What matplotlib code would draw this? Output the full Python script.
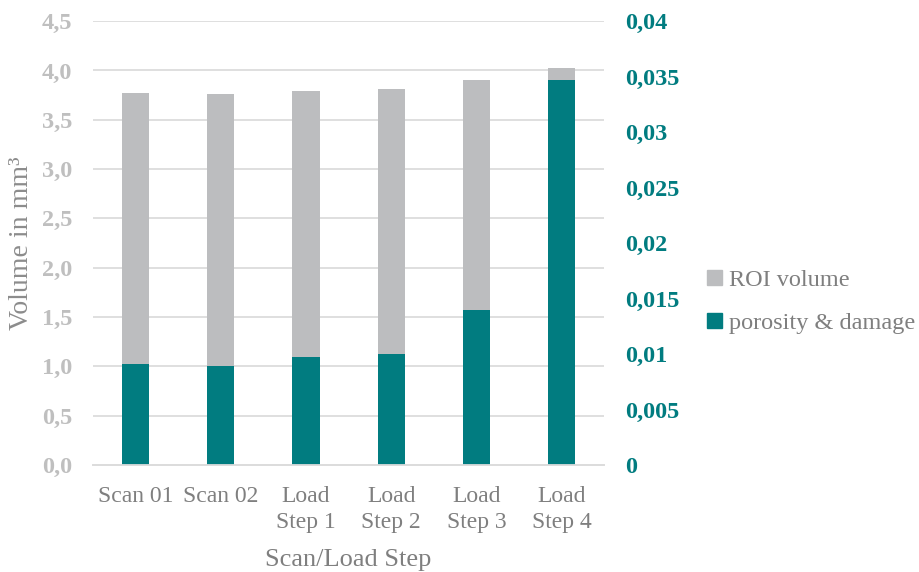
import matplotlib.pyplot as plt
from matplotlib.ticker import FuncFormatter, MultipleLocator
from matplotlib.patches import Patch
import numpy as np

# Volumes per scan / load step
steps = ['Scan 01', 'Scan 02', 'Load\nStep 1', 'Load\nStep 2', 'Load\nStep 3', 'Load\nStep 4']
roi_volume = [3.77, 3.76, 3.79, 3.81, 3.90, 4.03]          # mm^3, left axis
porosity_damage = [0.00907, 0.00895, 0.00976, 0.0100, 0.01396, 0.03466]  # mm^3, right axis

GREY = '#BCBDBF'
TEAL = '#017C80'
GRID = '#DCDCDC'

plt.rcParams['font.family'] = ['Liberation Serif', 'DejaVu Serif']


def plot_volumes():
    fig = plt.figure(figsize=(9.2, 5.72), dpi=100)
    ax = fig.add_axes([0.101, 0.187, 0.556, 0.776])
    ax2 = ax.twinx()

    x = np.arange(len(steps))
    width = 0.32

    ax.bar(x, roi_volume, width=width, color=GREY, zorder=2)
    ax2.bar(x, porosity_damage, width=width, color=TEAL, zorder=2)

    # left axis
    ax.set_ylim(0, 4.5)
    ax.yaxis.set_major_locator(MultipleLocator(0.5))
    ax.yaxis.set_major_formatter(FuncFormatter(lambda v, p: f'{v:.1f}'.replace('.', ',')))
    ax.grid(axis='y', color=GRID, linewidth=1.3, zorder=0)
    ax.set_axisbelow(True)
    ax.set_xlim(-0.5, len(steps) - 0.5)
    ax.set_xticks(x)
    ax.set_xticklabels(steps, color='#7F7F7F', fontsize=17, linespacing=1.32)
    ax.tick_params(axis='both', length=0)
    ax.tick_params(axis='y', pad=15)
    ax.tick_params(axis='x', pad=15)
    for lbl in ax.get_yticklabels():
        lbl.set_fontsize(17.5)
        lbl.set_fontweight('bold')
        lbl.set_color('#BFBFBF')
    ax.set_ylabel('Volume in mm³', color='#8C8C8C', fontsize=20)
    ax.yaxis.set_label_coords(-0.115, 0.5)
    ax.set_xlabel('Scan/Load Step', color='#7F7F7F', fontsize=19)
    ax.xaxis.set_label_coords(0.5, -0.19)

    # right axis
    ax2.set_ylim(0, 0.04)
    ax2.yaxis.set_major_locator(MultipleLocator(0.005))
    ax2.yaxis.set_major_formatter(FuncFormatter(lambda v, p: f'{v:g}'.replace('.', ',')))
    ax2.tick_params(axis='y', length=0, pad=15)
    for lbl in ax2.get_yticklabels():
        lbl.set_fontsize(17.5)
        lbl.set_fontweight('bold')
        lbl.set_color(TEAL)

    for a in (ax, ax2):
        for side in ('top', 'left', 'right'):
            a.spines[side].set_visible(False)
        a.spines['bottom'].set_color(GRID)
        a.spines['bottom'].set_linewidth(1.3)

    handles = [Patch(color=GREY, label='ROI volume'),
               Patch(color=TEAL, label='porosity & damage')]
    leg = fig.legend(handles=handles, loc='center left',
                     bbox_to_anchor=(0.758, 0.472), frameon=False,
                     fontsize=17.5, handlelength=0.6, handleheight=0.6,
                     handletextpad=0.3, labelspacing=0.89, borderaxespad=0)
    for t in leg.get_texts():
        t.set_color('#7F7F7F')

    fig.savefig('out.png', dpi=100)


def main():
    plot_volumes()


if __name__ == "__main__":
    main()
